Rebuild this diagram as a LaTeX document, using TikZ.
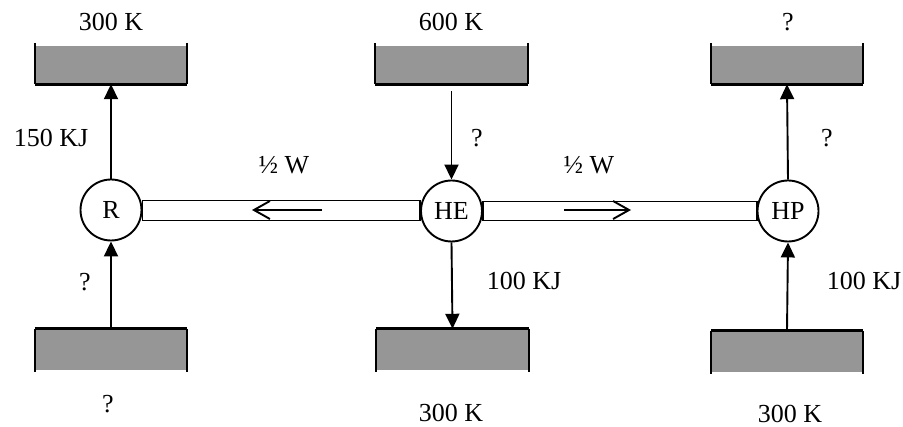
\documentclass[tikz,border=0pt]{standalone}
\usepackage{fontspec}
\setmainfont{Liberation Serif}
\usetikzlibrary{arrows.meta, positioning, calc}
\definecolor{resgray}{RGB}{150,150,150}
\tikzset{
  engine/.style={circle, draw, line width=1.9pt, fill=white, minimum size=61pt, inner sep=0pt},
  reservoir/.style={rectangle, fill=resgray, minimum width=152pt, inner sep=0pt},
  heat/.style={line width=1.9pt, -{Triangle[length=15pt, width=14pt]}},
  work/.style={line width=1.9pt, -{Straight Barb[length=16pt, width=18pt]}},
  wall/.style={line width=1.9pt},
  floor/.style={line width=3pt},
  tag/.style={inner sep=0pt},
}

\begin{document}
\begin{tikzpicture}[x=1pt, y=-1pt, font=\fontsize{26}{29}\selectfont]
  \useasboundingbox (0,0) rectangle (903,427);
  \foreach \n/\x in {tl/111, tc/451.5, tr/787}
  {
    \node[reservoir, minimum height=38pt] (\n) at (\x,65) {};
    \draw[wall] ([yshift=3pt]\n.north west) -- (\n.south west);
    \draw[wall] ([yshift=3pt]\n.north east) -- (\n.south east);
    \draw[floor] (\n.south west) -- (\n.south east);
  }
  \foreach \n/\x/\y in {bl/111/349.5, bc/452.5/349.5, br/787/351.5}
  {
    \node[reservoir, minimum height=41pt] (\n) at (\x,\y) {};
    \draw[wall] (\n.north west) -- ([yshift=-2pt]\n.south west);
    \draw[wall] (\n.north east) -- ([yshift=-2pt]\n.south east);
    \draw[floor] (\n.north west) -- (\n.north east);
  }
  \node[tag] (tlT) at (111,22) {300 K};
  \node[tag] (tcT) at (451,22) {600 K};
  \node[tag] (trT) at (788,22) {?};
  \node[tag] (blT) at (108,404) {?};
  \node[tag] (bcT) at (451,413) {300 K};
  \node[tag] (brT) at (790,414) {300 K};

  \node[engine] (R) at (111,210) {R};
  \node[engine] (HE) at (451.5,211) {HE};
  \node[engine] (HP) at (788,211) {HP};

  \draw[wall] ([yshift=9.5pt]R.east) rectangle ([yshift=-9.5pt]HE.west);
  \draw[wall] ([yshift=9.5pt]HE.east) rectangle ([yshift=-9.5pt]HP.west);
  \coordinate (wl0) at (322,210);
  \coordinate (wl1) at (252,210);
  \coordinate (wr0) at (564,210);
  \coordinate (wr1) at (631,210);
  \draw[work] (wl0) -- (wl1);
  \draw[work] (wr0) -- (wr1);
  \node[tag] (wlT) at (284,165) {½ W};
  \node[tag] (wrT) at (589,165) {½ W};

  \draw[heat] (R.north) -- (tl.south);
  \draw[heat] (bl.north) -- (R.south);
  \draw[heat, shorten <=7pt] (tc.south) -- (HE.north);
  \draw[heat] (HE.south) -- (bc.north);
  \draw[heat] (HP.north) -- (tr.south);
  \draw[heat] (br.north) -- (HP.south);

  \node[tag] (qR) at (51,138) {150 KJ};
  \node[tag] (qRl) at (85,282) {?};
  \node[tag] (qHE) at (477,138) {?};
  \node[tag] (qHEl) at (524,281) {100 KJ};
  \node[tag] (qHP) at (827,138) {?};
  \node[tag] (qHPl) at (864,281) {100 KJ};
\end{tikzpicture}
\end{document}
